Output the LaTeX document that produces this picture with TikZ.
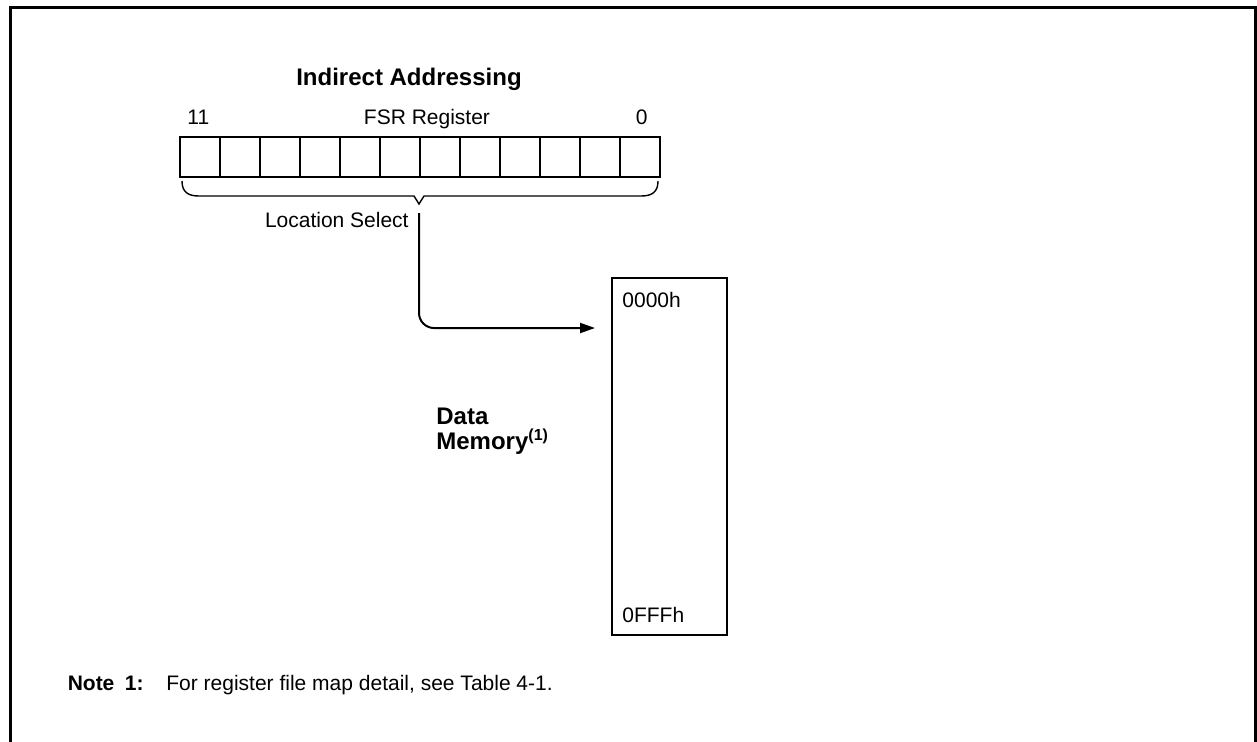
\documentclass[tikz,border=0pt]{standalone}
\usepackage{fontspec}
\setmainfont{Liberation Sans}
\usepackage{tikz}
\usetikzlibrary{positioning,arrows.meta}

\begin{document}
\begin{tikzpicture}[
            x=0.5pt, y=-0.5pt,
            cell/.style={
                draw,
                rectangle,
                line width=1pt,
                minimum size=20pt,
                inner sep=0pt,
                outer sep=0pt
            },
            memory/.style={
                draw,
                rectangle,
                line width=1pt,
                minimum width=57.5pt,
                minimum height=178.5pt,
                inner sep=0pt,
                outer sep=0pt
            },
            txt/.style={
                inner sep=0pt,
                font=\fontsize{10.5}{12}\selectfont
            },
            heading/.style={
                inner sep=0pt,
                align=left,
                font=\fontsize{12}{12.2}\selectfont\bfseries
            },
            brace/.style={
                line width=0.7pt
            },
            arrow/.style={
                -{Triangle[length=7.5pt,width=5pt]},
                line width=1pt,
                rounded corners=7.5pt
            }
        ]
            \useasboundingbox (0,0) rectangle (1257,741);
            \draw[line width=1.5pt] (10,760) -- (10,7) -- (1255.5,7) -- (1255.5,760);

            \node[heading, anchor=base] (title) at (409,85) {Indirect Addressing};

            \foreach \i in {0,...,11}
                \node[cell] (c\i) at (200+40*\i,157) {};

            \node[txt, anchor=base west] (msb) at (187,124) {11};
            \node[txt, anchor=base] (fsr) at (427,124) {FSR Register};
            \node[txt, anchor=base east] (lsb) at (648,124) {0};

            \draw[brace] (182,181) .. controls (182,192) and (188,196) .. (199,196)
                -- (414,196) -- (419,204) -- (424,196) -- (641,196)
                .. controls (652,196) and (658,192) .. (658,181);
            \coordinate (tip) at (419,204);
            \node[txt, anchor=base east] (sel) at (409,227) {Location Select};

            \node[memory] (mem) at (669.5,456.5) {};
            \node[txt, anchor=base west] (first) at (622,307) {0000h};
            \node[txt, anchor=base west] (last) at (622,622) {0FFFh};
            \node[heading, anchor=base west] (data) at (436,449) {Data\\Memory\textsuperscript{(1)}};

            \draw[arrow] ([yshift=-4.5pt]tip) |- ([xshift=-8.5pt,yshift=-25pt]mem.north west);

            \node[txt, anchor=base east, font=\fontsize{10.5}{12}\selectfont\bfseries] (note) at (144,690) {Note\enspace 1:};
            \node[txt, anchor=base west] (notetext) at (166,690) {For register file map detail, see Table 4-1.};
        \end{tikzpicture}
\end{document}
